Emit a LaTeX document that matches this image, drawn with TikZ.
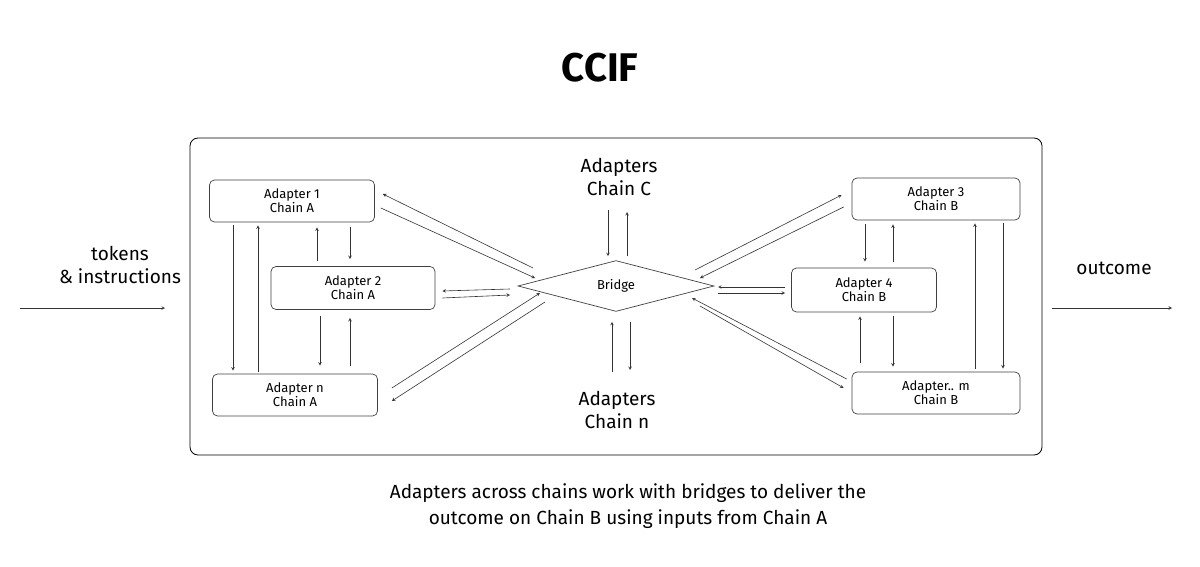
\documentclass[tikz,border=0pt]{standalone}
\usepackage{fontspec}
\setmainfont{Fira Sans}
\usetikzlibrary{shapes.geometric,calc}
\begin{document}
\begin{tikzpicture}[x=1pt,y=-1pt,
 box/.style={draw=black!75,rounded corners=5pt,line width=0.7pt,align=center,font=\fontsize{13}{14}\selectfont,inner sep=0},
 ar/.style={-stealth,line width=0.6pt,black!80},
 lbl/.style={align=center,font=\fontsize{19}{23}\selectfont}]
\useasboundingbox (0,0) rectangle (1200,567);
\node[font=\fontsize{40}{44}\selectfont\bfseries] (title) at (600,68) {CCIF};
\draw[rounded corners=8pt,line width=0.8pt] (190,138) rectangle (1042,455);
\node[box,minimum width=165,minimum height=42] (a1) at (292,201) {Adapter 1\\Chain A};
\node[box,minimum width=164,minimum height=43] (a2) at (353,288) {Adapter 2\\Chain A};
\node[box,minimum width=165,minimum height=42] (an) at (295,395) {Adapter n\\Chain A};
\node[box,minimum width=168,minimum height=42] (a3) at (936,199) {Adapter 3\\Chain B};
\node[box,minimum width=145,minimum height=44] (a4) at (864,290) {Adapter 4\\Chain B};
\node[box,minimum width=168,minimum height=42] (am) at (936,393) {Adapter.. m\\Chain B};
\node[diamond,draw=black!75,line width=0.7pt,minimum width=196,minimum height=36,inner sep=0,font=\fontsize{13}{14}\selectfont] (br) at (616,286) {Bridge};
\node[lbl] (cc) at (619,177) {Adapters\\Chain C};
\node[lbl] (cn) at (617,410) {Adapters\\Chain n};
\node[lbl] (tok) at (120,265) {tokens\\\& instructions};
\node[lbl] (out) at (1114,268) {outcome};
\node[align=center,font=\fontsize{19}{26}\selectfont] (cap) at (628,506) {Adapters across chains work with bridges to deliver the\\outcome on Chain B using inputs from Chain A};
\coordinate (i0) at (20,308); \coordinate (i1) at (165,308);
\coordinate (o0) at (1052,308); \coordinate (o1) at (1172,308);
\draw[ar] (i0) -- (i1);
\draw[ar] (o0) -- (o1);
% left verticals
\draw[ar] ($(a1.south)+(-59,3)$) -- ($(an.north)+(-62,-3)$);
\draw[ar] ($(an.north)+(-37,-2)$) -- ($(a1.south)+(-34,3)$);
\draw[ar] ($(a2.north)+(-36,-5)$) -- ($(a1.south)+(25,5)$);
\draw[ar] ($(a1.south)+(58,5)$) -- ($(a2.north)+(-3,-7)$);
\draw[ar] ($(a2.south)+(-33,6)$) -- ($(an.north)+(25,-8)$);
\draw[ar] ($(an.north)+(55,-8)$) -- ($(a2.south)+(-3,8)$);
% right verticals
\draw[ar] ($(a3.south)+(-71,4)$) -- ($(a4.north)+(1,-6)$);
\draw[ar] ($(a4.north)+(29,-6)$) -- ($(a3.south)+(-43,4)$);
\draw[ar] ($(am.north)+(39,-3)$) -- ($(a3.south)+(39,3)$);
\draw[ar] ($(a3.south)+(67,3)$) -- ($(am.north)+(67,-3)$);
\draw[ar] ($(am.north)+(-76,-9)$) -- ($(a4.south)+(-4,4)$);
\draw[ar] ($(a4.south)+(29,4)$) -- ($(am.north)+(-43,-5)$);
% diagonals left
\draw[ar] (533,268) -- ($(a1.east)+(8,-7)$);
\draw[ar] ($(a1.east)+(6,7)$) -- (535,278);
\draw[ar] (510,289) -- ($(a2.east)+(7,3)$);
\draw[ar] ($(a2.east)+(7,10)$) -- (510,295);
\draw[ar] ($(an.east)+(14,-7)$) -- (540,293);
\draw[ar] (545,302) -- ($(an.east)+(14,6)$);
% diagonals right
\draw[ar] (695,270) -- ($(a3.west)+(-10,-4)$);
\draw[ar] ($(a3.west)+(-8,8)$) -- (700,278);
\draw[ar] ($(a4.west)+(-6,-3)$) -- (718,287);
\draw[ar] (718,293) -- ($(a4.west)+(-6,3)$);
\draw[ar] ($(am.west)+(-5,-14)$) -- (692,298);
\draw[ar] (700,306) -- ($(am.west)+(-8,-5)$);
% chain C / n
\draw[ar] (608,210) -- ($(br.north)+(-8,-4)$);
\draw[ar] ($(br.north)+(11,-4)$) -- (627,212);
\draw[ar] (612,372) -- ($(br.south)+(-4,10)$);
\draw[ar] ($(br.south)+(14,10)$) -- (630,370);
\end{tikzpicture}
\end{document}
